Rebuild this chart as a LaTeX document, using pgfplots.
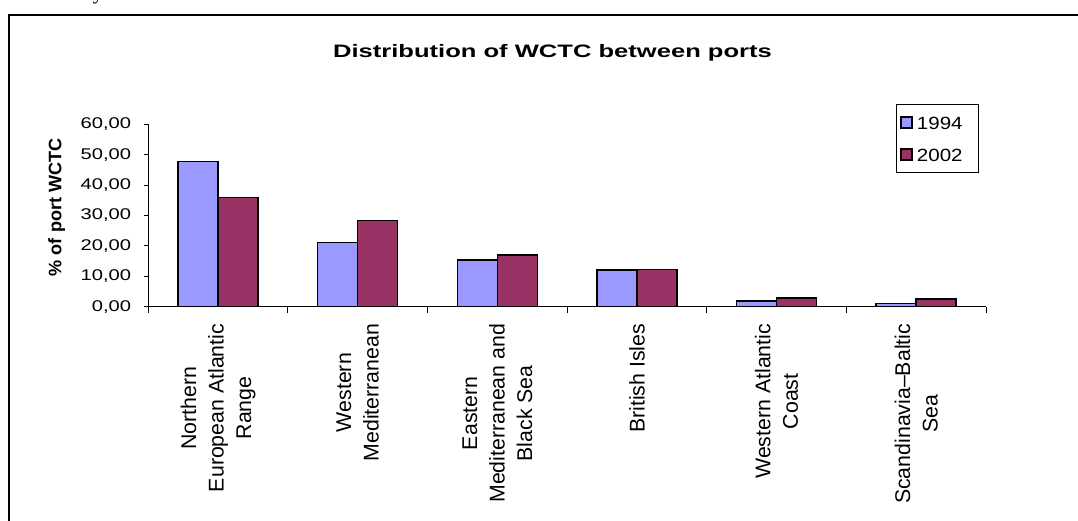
\documentclass[border=0pt]{standalone}
\usepackage{pgfplots}
\pgfplotsset{compat=1.18}
\usepackage{fontspec}
\setmainfont{Liberation Sans}
\newfontfamily\seriffont{Liberation Serif}
\usepackage{graphicx}

\definecolor{lav}{HTML}{9999FF}
\definecolor{plum}{HTML}{993366}

\pgfplotstableread{
x  y1994  y2002
0  47.7   36.0
1  21.1   28.4
2  15.4   17.0
3  12.0   12.3
4   1.9    2.8
5   1.1    2.5
}\wctc

% legend entry text, horizontally widened like the other labels
\newcommand\legtext[1]{\scalebox{1.16}[1]{#1}\hspace*{11pt}}

\begin{document}
\begin{tikzpicture}[x=1pt,y=1pt]
\path[use as bounding box] (0,0) rectangle (1078,520);

% tail of the line of text above the chart
\node[font=\seriffont\fontsize{21}{21}\selectfont, anchor=base, inner sep=0pt] at (98,520.5) {y};

% chart area frame
\draw[line width=1.3pt] (9,-5) -- (9,505) -- (1090,505);

% chart title
\node[font=\bfseries\fontsize{18}{21}\selectfont, anchor=base, inner sep=0pt] at (552.5,462.7)
  {\scalebox{1.42}[1]{Distribution of WCTC between ports}};

\begin{axis}[
  scale only axis,
  width=837.7pt, height=182.4pt,
  at={(148.3pt,213.3pt)}, anchor=south west,
  ybar=0pt, bar width=40pt,
  xmin=-0.5, xmax=5.5,
  ymin=0, ymax=60,
  ytick={0,10,...,60},
  axis x line*=bottom, axis y line*=left,
  axis line style={line width=0.9pt, black},
  tick align=outside,
  major tick length=4pt,
  minor tick length=6pt,
  xtick={0,...,5},
  minor xtick={-0.5,0.5,...,5.5},
  major x tick style={draw=none},
  minor x tick style={line width=0.9pt, black},
  y tick style={line width=0.9pt, black},
  xticklabels={{Northern\\European Atlantic\\Range},
               {Western\\Mediterranean},
               {Eastern\\Mediterranean and\\Black Sea},
               {British Isles},
               {Western Atlantic\\Coast},
               {Scandinavia–Baltic\\Sea}},
  xticklabel style={rotate=90, anchor=east, align=center,
     font=\fontsize{21.3}{27.5}\selectfont, inner sep=0pt, xshift=-13pt},
  /pgf/number format/assume math mode=true,
  yticklabel={\scalebox{1.3}[1]{\pgfmathprintnumber[fixed,fixed zerofill,precision=2,use comma]{\tick}}},
  yticklabel style={font=\fontsize{15.5}{18}\selectfont, inner sep=0pt, xshift=-13pt},
  ylabel={\% of port WCTC},
  ylabel style={font=\bfseries\fontsize{18.1}{21}\selectfont,
     at={(axis description cs:-0.1093,0.545)}, anchor=center},
  legend style={draw=black, line width=0.8pt,
     at={(axis description cs:0.8926,1.111)}, anchor=north west,
     inner xsep=4pt, inner ysep=2pt, row sep=0pt,
     font=\fontsize{17.7}{20}\selectfont,
     nodes={inner sep=1pt, text height=22pt, text depth=8pt},
     /tikz/every odd column/.append style={column sep=3pt}},
  legend cell align=left,
  legend image code/.code={\draw[#1, line width=1.5pt] (0pt,-5.5pt) rectangle (11pt,5.5pt);},
]
\addplot[fill=lav, draw=black, line width=1.5pt] table[x=x, y=y1994] {\wctc};
\addplot[fill=plum, draw=black, line width=1.5pt] table[x=x, y=y2002] {\wctc};
\legend{\legtext{1994}, \legtext{2002}}
\end{axis}
\end{tikzpicture}
\end{document}
